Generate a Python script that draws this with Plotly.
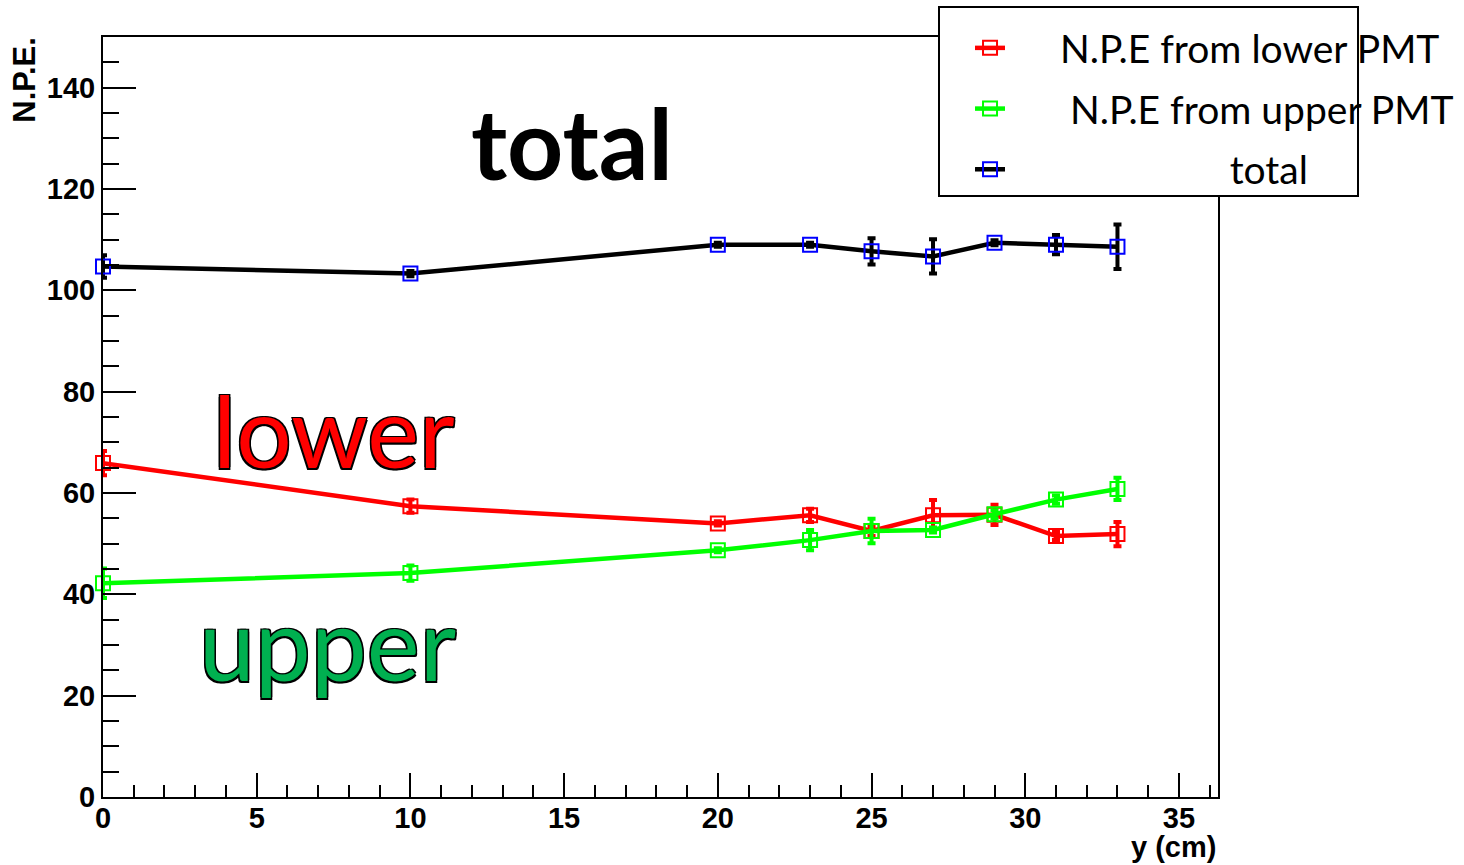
import plotly.graph_objects as go

# ---- data ----
y_cm = [0, 10, 20, 23, 25, 27, 29, 31, 33]
npe_lower = [65.9, 57.4, 54.0, 55.6, 52.5, 55.6, 55.7, 51.5, 51.9]
err_lower = [2.4, 1.3, 0.4, 1.3, 1.0, 3.0, 2.0, 0.8, 2.4]
npe_upper = [42.2, 44.2, 48.7, 50.7, 52.5, 52.7, 55.8, 58.7, 60.8]
err_upper = [2.9, 1.5, 0.4, 2.0, 2.4, 0.5, 0.8, 0.8, 2.2]
npe_total = [104.7, 103.3, 109.0, 109.0, 107.7, 106.7, 109.4, 109.0, 108.6]
err_total = [2.2, 0.5, 0.4, 0.4, 2.6, 3.4, 0.5, 1.9, 4.4]

series_names = ["N.P.E from lower PMT", "N.P.E from upper PMT", "total"]
legend_pad = [5, 6, 22]

line_colors = ["#ff0000", "#00ff00", "#000000"]
marker_colors = ["#ff0000", "#00ff00", "#0000ff"]

fig = go.Figure()
for i, (vals, errs) in enumerate([(npe_lower, err_lower), (npe_upper, err_upper), (npe_total, err_total)]):
    fig.add_trace(go.Scatter(
        x=y_cm, y=vals,
        mode="lines+markers",
        name="\u00a0" * legend_pad[i] + series_names[i],
        legendgroup=f"g{i}",
        line=dict(color=line_colors[i], width=4.5),
        marker=dict(symbol="square-open", size=14, color=marker_colors[i],
                    line=dict(width=2, color=marker_colors[i])),
        error_y=dict(type="data", array=errs, visible=True, color=line_colors[i],
                     thickness=4, width=4),
        cliponaxis=False,
    ))

tickfont = dict(family="Liberation Sans, Arial", size=29, color="black", weight="bold")

fig.update_xaxes(
    range=[0, 36.27], showgrid=False, zeroline=False,
    showline=True, linecolor="black", linewidth=2, mirror=True,
    ticks="inside", tick0=0, dtick=5, ticklen=24, tickwidth=2, tickcolor="black",
    minor=dict(ticks="inside", dtick=1, ticklen=12, tickwidth=2, tickcolor="black"),
    tickfont=tickfont, ticklabelstandoff=-6,
)
fig.update_yaxes(
    range=[0, 150], showgrid=False, zeroline=False,
    showline=True, linecolor="black", linewidth=2, mirror=True,
    ticks="inside", tick0=0, dtick=20, ticklen=33, tickwidth=2, tickcolor="black",
    minor=dict(ticks="inside", dtick=5, ticklen=16, tickwidth=2, tickcolor="black"),
    tickfont=tickfont,
)

outline = "-1.5px -1.5px 0 #000, 1.5px -1.5px 0 #000, -1.5px 1.5px 0 #000, 1.5px 1.5px 0 #000"
annots = [
    dict(text="total", x=15.25, y=129.3, xref="x", yref="y", showarrow=False,
         font=dict(family="Lato", size=98, color="black", weight="bold")),
    dict(text="lower", x=7.5, y=72.5, xref="x", yref="y", showarrow=False,
         font=dict(family="Lato", size=98, color="#ff0000", shadow=outline)),
    dict(text="upper", x=7.3, y=30.5, xref="x", yref="y", showarrow=False,
         font=dict(family="Lato", size=100, color="#00b050", shadow=outline)),
    dict(text="N.P.E.", x=-0.07, y=1.003, xref="paper", yref="paper", showarrow=False,
         textangle=-90, xanchor="center", yanchor="top",
         font=dict(family="Liberation Sans, Arial", size=31, color="black", weight="bold")),
    dict(text="y (cm)", x=1.0, y=-0.066, xref="paper", yref="paper", showarrow=False,
         xanchor="right", yanchor="middle",
         font=dict(family="Liberation Sans, Arial", size=29, color="black", weight="bold")),
]

fig.update_layout(
    width=1464, height=865,
    margin=dict(l=103, r=246, t=37, b=68, autoexpand=False),
    paper_bgcolor="white", plot_bgcolor="white",
    showlegend=True,
    legend=dict(x=0.7776, y=1.0276, xanchor="left", yanchor="top",
                bgcolor="rgba(0,0,0,0)", borderwidth=0,
                font=dict(family="Lato", size=39, color="black"),
                tracegroupgap=7),
    annotations=annots,
    shapes=[dict(type="rect", xref="paper", yref="paper",
                 x0=(939 - 103) / 1115, x1=(1358 - 103) / 1115,
                 y0=(797 - 196) / 760, y1=(797 - 7) / 760,
                 fillcolor="white", line=dict(color="black", width=2), layer="above")],
)

fig.write_html("out.html")
